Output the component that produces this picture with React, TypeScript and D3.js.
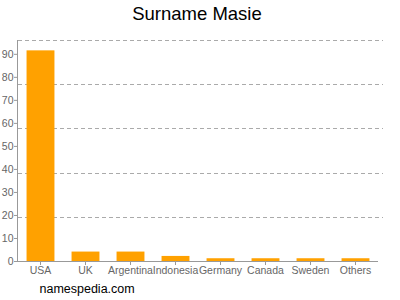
import React from "react";
import * as d3 from "d3";

const categories = ["USA", "UK", "Argentina", "Indonesia", "Germany", "Canada", "Sweden", "Others"];
const values = [91.5, 4.1, 4.1, 2.2, 1.2, 1.2, 1.2, 1.2];
const yTicks = [0, 10, 20, 30, 40, 50, 60, 70, 80, 90];
const yMax = 96;
const gridCount = 5;

export default function App() {
  const W = 400, H = 300;
  const left = 18, right = 378, top = 40, bottom = 261;
  const x = d3.scaleBand<string>().domain(categories).range([left, right]).paddingInner(0.38).paddingOuter(0.19);
  const y = d3.scaleLinear().domain([0, yMax]).range([bottom, top]);
  const grid = d3.range(1, gridCount + 1).map((i) => (yMax * i) / gridCount);
  const font = "Arial, 'Liberation Sans', Helvetica, sans-serif";
  return (
    <svg width={W} height={H} style={{ position: "absolute", left: 0, top: 0 }} fontFamily={font}>
      <rect x={0} y={0} width={W} height={H} fill="#fff" />
      <text x={197} y={20} textAnchor="middle" fontSize={18.5} fill="#000">Surname Masie</text>
      {grid.map((g) => (
        <line key={g} x1={left} x2={383} y1={Math.round(y(g)) + 0.5} y2={Math.round(y(g)) + 0.5} stroke="#aaa" strokeDasharray="4,3" strokeWidth={1} />
      ))}
      {categories.map((c, i) => (
        <rect key={c} x={x(c)} y={y(values[i])} width={x.bandwidth()} height={bottom - y(values[i])} fill="#ffa100" />
      ))}
      <line x1={left - 0.5} x2={left - 0.5} y1={top} y2={bottom} stroke="#999" />
      <line x1={left - 0.5} x2={right} y1={bottom + 0.5} y2={bottom + 0.5} stroke="#999" />
      {yTicks.map((t) => (
        <g key={t}>
          <line x1={left - 4} x2={left} y1={y(t) + 0.5} y2={y(t) + 0.5} stroke="#999" />
          <text x={13.5} y={y(t) + 4} textAnchor="end" fontSize={10.5} fill="#666">{t}</text>
        </g>
      ))}
      {categories.map((c) => {
        const cx = (x(c) as number) + x.bandwidth() / 2;
        return (
          <g key={c}>
            <line x1={cx} x2={cx} y1={bottom} y2={bottom + 4} stroke="#999" />
            <text x={cx} y={273.5} textAnchor="middle" fontSize={10.5} fill="#666">{c}</text>
          </g>
        );
      })}
      <text x={39.5} y={293} fontSize={12.5} fill="#000">namespedia.com</text>
    </svg>
  );
}
